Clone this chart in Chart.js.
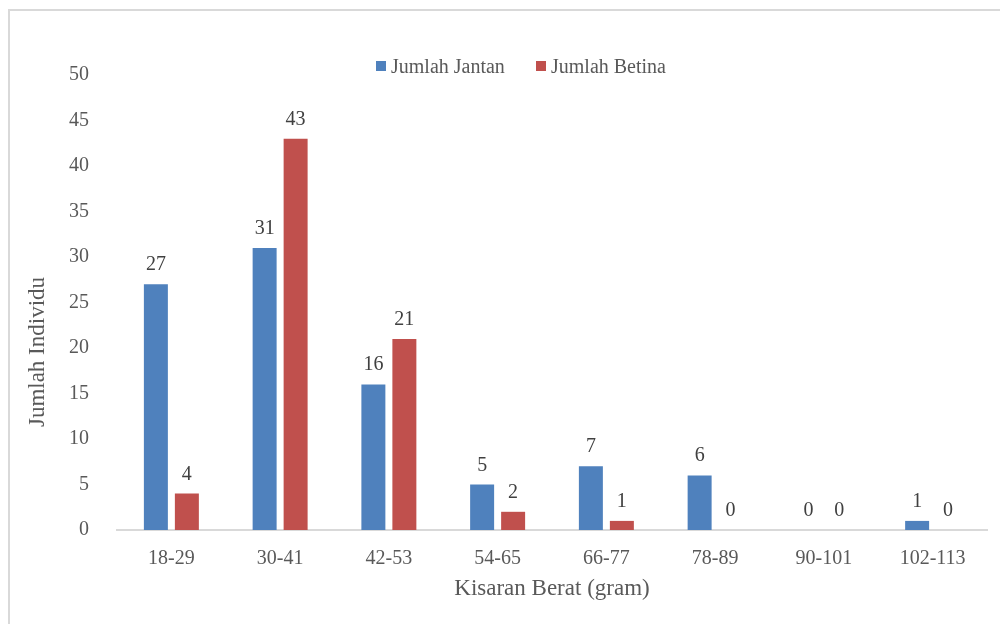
<!DOCTYPE html>
<html>
<head>
<meta charset="utf-8">
<script src="https://cdn.jsdelivr.net/npm/chart.js@4/dist/chart.umd.min.js"></script>
<style>
  html, body { margin: 0; padding: 0; background: #ffffff; }
  #wrap { width: 1000px; height: 624px; position: relative; }
</style>
</head>
<body>
<div id="wrap"><canvas id="c" width="1000" height="624"></canvas></div>
<script>
const categories = ['18-29', '30-41', '42-53', '54-65', '66-77', '78-89', '90-101', '102-113'];
const jumlahJantan = [27, 31, 16, 5, 7, 6, 0, 1];
const jumlahBetina = [4, 43, 21, 2, 1, 0, 0, 0];
const seriesNames = ['Jumlah Jantan', 'Jumlah Betina'];
const yMin = 0, yMax = 50, yStep = 5;
const xTitle = 'Kisaran Berat (gram)';
const yTitle = 'Jumlah Individu';

const FONT = '"Liberation Serif", "Times New Roman", serif';
const BLUE = '#4F81BD', RED = '#C0504D';
const TXT = '#595959';

const framePlugin = {
  id: 'frame',
  beforeDraw(chart) {
    const ctx = chart.ctx;
    ctx.save();
    ctx.fillStyle = '#ffffff';
    ctx.fillRect(0, 0, chart.width, chart.height);
    ctx.strokeStyle = '#d9d9d9';
    ctx.lineWidth = 2;
    ctx.strokeRect(9, 10, 1200, 1200);
    ctx.restore();
  }
};

const extrasPlugin = {
  id: 'extras',
  afterDatasetsDraw(chart) {
    const ctx = chart.ctx;
    ctx.save();
    // data labels
    ctx.font = '20px ' + FONT;
    ctx.fillStyle = '#404040';
    ctx.textAlign = 'center';
    ctx.textBaseline = 'alphabetic';
    chart.data.datasets.forEach((ds, i) => {
      const meta = chart.getDatasetMeta(i);
      meta.data.forEach((el, j) => {
        ctx.fillText(String(ds.data[j]), el.x, el.y - 14);
      });
    });
    // legend
    const items = [
      { x: 376, color: BLUE, text: seriesNames[0] },
      { x: 536, color: RED, text: seriesNames[1] }
    ];
    ctx.textAlign = 'left';
    ctx.textBaseline = 'middle';
    ctx.font = '20px ' + FONT;
    items.forEach(it => {
      ctx.fillStyle = it.color;
      ctx.fillRect(it.x, 61, 10, 10);
      ctx.fillStyle = TXT;
      ctx.fillText(it.text, it.x + 15, 68);
    });
    // axis titles
    const ca = chart.chartArea;
    ctx.font = '23px ' + FONT;
    ctx.fillStyle = TXT;
    ctx.textAlign = 'center';
    ctx.textBaseline = 'middle';
    ctx.fillText(xTitle, (ca.left + ca.right) / 2, 589);
    ctx.save();
    ctx.translate(38, 352);
    ctx.rotate(-Math.PI / 2);
    ctx.fillText(yTitle, 0, 0);
    ctx.restore();
    ctx.restore();
  }
};

new Chart(document.getElementById('c'), {
  type: 'bar',
  data: {
    labels: categories,
    datasets: [
      { label: seriesNames[0], data: jumlahJantan, backgroundColor: BLUE, categoryPercentage: 0.57, barPercentage: 0.774 },
      { label: seriesNames[1], data: jumlahBetina, backgroundColor: RED, categoryPercentage: 0.57, barPercentage: 0.774 }
    ]
  },
  options: {
    responsive: false,
    animation: false,
    layout: { padding: { top: 75, right: 13, bottom: 0, left: 0 } },
    plugins: {
      legend: { display: false },
      tooltip: { enabled: false },
      title: { display: false }
    },
    scales: {
      x: {
        grid: { display: false },
        border: { display: true, color: '#d9d9d9', width: 2 },
        ticks: { color: TXT, font: { family: FONT, size: 20 }, padding: 9, maxRotation: 0, autoSkip: false },
        afterFit(scale) { scale.height = 94; }
      },
      y: {
        min: yMin, max: yMax,
        grid: { display: false },
        border: { display: false },
        ticks: { stepSize: yStep, color: TXT, font: { family: FONT, size: 20 }, padding: 20 },
        afterFit(scale) { scale.width = 117; }
      }
    }
  },
  plugins: [framePlugin, extrasPlugin]
});
</script>
</body>
</html>
